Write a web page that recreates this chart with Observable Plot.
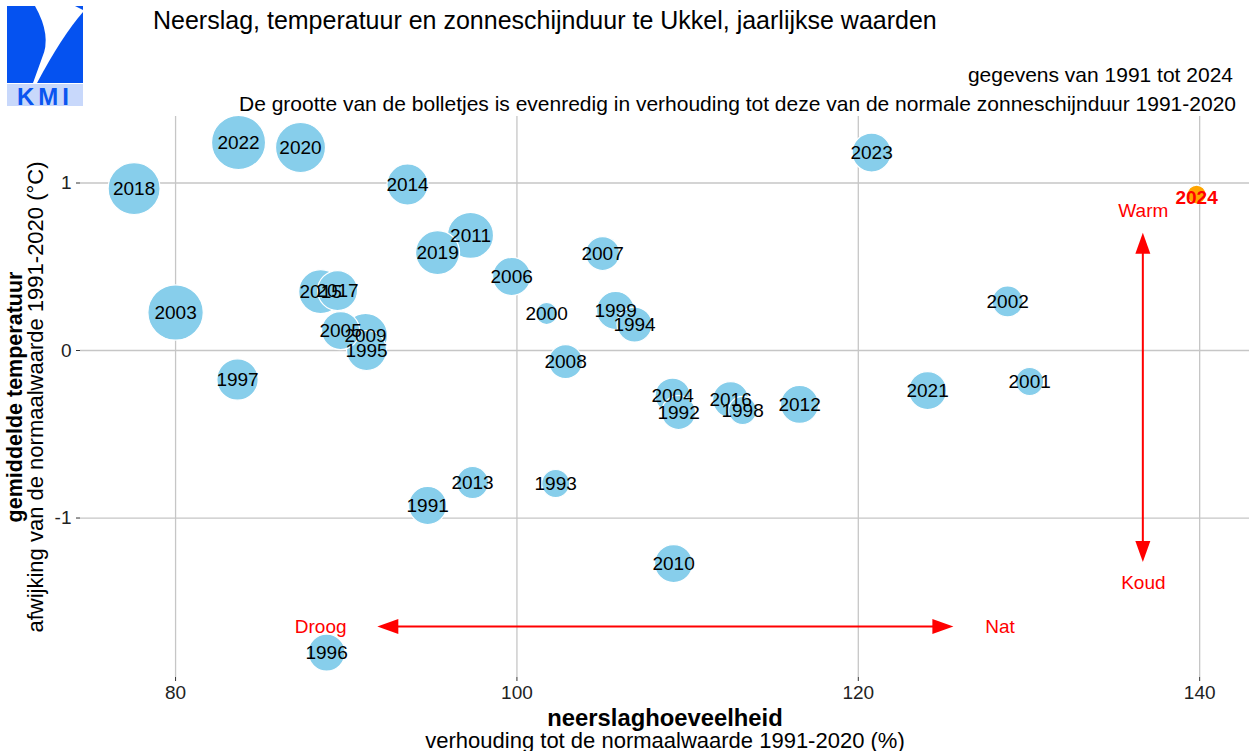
<!DOCTYPE html>
<html><head><meta charset="utf-8">
<script src="https://cdn.jsdelivr.net/npm/d3@7"></script>
<script src="https://cdn.jsdelivr.net/npm/@observablehq/plot@0.6"></script>
<style>
body{margin:0;background:#fff;font-family:"Liberation Sans",Arial,Helvetica,sans-serif;}
#wrap{position:relative;width:1249px;height:751px;overflow:hidden;background:#fff;}
.t{position:absolute;white-space:nowrap;color:#000;line-height:1.15;z-index:2;}
#title{left:153px;top:6px;font-size:25px;}
#sub1{right:16px;top:63px;font-size:21px;}
#sub2{right:13px;top:92px;font-size:21px;}
#logo{position:absolute;left:0;top:0;z-index:2;}
#chart{position:absolute;left:0;top:112px;z-index:1;}
</style></head>
<body>
<div id="wrap">
  <svg id="logo" width="90" height="110" viewBox="0 0 90 110">
    <path d="M7,6 L35,6 Q52,36 42,58 L33,83 L7,83 Z" fill="#0552f0"/>
    <path d="M37,83 L83,83 L83,12 Q62,36 37,83 Z" fill="#0552f0"/>
    <path d="M75,6 L83,6 L83,10 Z" fill="#0552f0"/>
    <rect x="7" y="84" width="76" height="22" fill="#c8d8fb"/>
    <text x="45" y="105" text-anchor="middle" font-family="Liberation Sans, Arial, sans-serif" font-weight="bold" font-size="24" letter-spacing="4" fill="#0a55f0">KMI</text>
  </svg>
  <div id="title" class="t">Neerslag, temperatuur en zonneschijnduur te Ukkel, jaarlijkse waarden</div>
  <div id="sub1" class="t">gegevens van 1991 tot 2024</div>
  <div id="sub2" class="t">De grootte van de bolletjes is evenredig in verhouding tot deze van de normale zonneschijnduur 1991-2020</div>
  <div id="chart"></div>
</div>
<script>
// ---- Data ----
const jaren = [1991,1992,1993,1994,1995,1996,1997,1998,1999,2000,2001,2002,2003,2004,2005,2006,2007,2008,2009,2010,2011,2012,2013,2014,2015,2016,2017,2018,2019,2020,2021,2022,2023,2024];
// neerslag: % of normal 1991-2020
const neerslag = [94.77,109.47,102.27,106.89,91.19,88.85,83.63,113.22,105.78,101.74,130.04,128.75,80.00,109.12,89.67,99.69,105.02,102.85,91.13,109.18,97.28,116.56,97.40,93.59,88.50,112.52,89.49,77.57,95.35,87.32,124.06,83.69,120.78,139.82];
// temperatuur: anomaly vs 1991-2020 (°C)
const temperatuur = [-0.925,-0.370,-0.794,0.155,0.000,-1.803,-0.173,-0.358,0.239,0.221,-0.185,0.293,0.227,-0.269,0.119,0.442,0.579,-0.066,0.090,-1.272,0.687,-0.322,-0.788,0.991,0.352,-0.293,0.358,0.967,0.585,1.212,-0.239,1.242,1.182,0.931];
// zonneschijnduur: % of normal 1991-2020
const zon = [108.3,104.4,98.7,105.4,110.2,107.3,111.5,98.7,108.3,92.9,98.7,101.5,125.0,105.4,108.3,108.3,104.4,104.4,114.0,108.3,116.0,108.3,102.5,111.2,114.0,106.3,110.2,121.7,114.0,119.8,108.3,123.7,109.2,90.0];
const laatsteJaar = 2024;

const xTicks = [80,100,120,140];
const yTicks = [-1,0,1];

// annotations
const pijlH = {x1: 125.6, x2: 91.85, y: -1.65};
const pijlV = {x: 136.7, y1: -1.265, y2: 0.70};
const annotaties = [
  {x: 88.5, y: -1.65, t: "Droog"},
  {x: 128.3, y: -1.65, t: "Nat"},
  {x: 136.7, y: 0.836, t: "Warm"},
  {x: 136.7, y: -1.385, t: "Koud"}
];

const data = jaren.map((j,i) => ({jaar: j, neerslag: neerslag[i], temp: temperatuur[i], zon: zon[i]}));
const oud = data.filter(d => d.jaar !== laatsteJaar);
const nieuw = data.filter(d => d.jaar === laatsteJaar);

const FONT = "Liberation Sans, Arial, Helvetica, sans-serif";
const RED = "#ff0000";

function arrowsMark(index, scales, values, dimensions) {
  const sx = scales.x, sy = scales.y;
  const g = d3.create("svg:g");
  const L = 21, W = 7.5;
  function head(tx, ty, dx, dy) {
    const bx = tx - dx*L, by = ty - dy*L;
    const px = -dy*W, py = dx*W;
    g.append("path").attr("d", `M${tx},${ty}L${bx+px},${by+py}L${bx-px},${by-py}Z`).attr("fill", RED);
  }
  const hx1 = sx(pijlH.x1), hx2 = sx(pijlH.x2), hy = sy(pijlH.y);
  g.append("line").attr("x1", hx1 - L*0.8).attr("x2", hx2 + L*0.8).attr("y1", hy).attr("y2", hy)
    .attr("stroke", RED).attr("stroke-width", 2);
  head(hx1, hy, 1, 0); head(hx2, hy, -1, 0);
  const vx = sx(pijlV.x), vy1 = sy(pijlV.y1), vy2 = sy(pijlV.y2);
  g.append("line").attr("x1", vx).attr("x2", vx).attr("y1", vy1 - L*0.8).attr("y2", vy2 + L*0.8)
    .attr("stroke", RED).attr("stroke-width", 2);
  head(vx, vy1, 0, 1); head(vx, vy2, 0, -1);
  return g.node();
}

const chart = Plot.plot({
  width: 1249,
  height: 639,
  marginTop: 4,
  marginLeft: 80,
  marginRight: 0,
  marginBottom: 74,
  style: {background: "none", overflow: "visible", fontFamily: FONT},
  x: {domain: [74.43, 142.92], label: null},
  y: {domain: [-1.952, 1.397], label: null},
  r: {type: "linear", domain: [90, 125], range: [9.5, 27.7]},
  marks: [
    Plot.gridX(xTicks, {stroke: "#c6c6c6", strokeOpacity: 1, strokeWidth: 1.3}),
    Plot.gridY(yTicks, {stroke: "#c6c6c6", strokeOpacity: 1, strokeWidth: 1.3}),
    Plot.axisX(xTicks, {tickSize: 4, tickPadding: 4, fontSize: 19, stroke: "#333", fill: "#222", label: null}),
    Plot.axisY(yTicks, {tickSize: 4, tickPadding: 5, fontSize: 19, stroke: "#333", fill: "#222", label: null, tickFormat: d => d === 0 ? "0" : (d < 0 ? "-1" : "1")}),
    Plot.dot(oud, {x: "neerslag", y: "temp", r: "zon", fill: "#87ceeb", fillOpacity: 1, stroke: "white", strokeWidth: 1.2}),
    Plot.dot(nieuw, {x: "neerslag", y: "temp", r: "zon", fill: "#ffa500", fillOpacity: 1, stroke: "white", strokeWidth: 1.2}),
    Plot.text(oud, {x: "neerslag", y: "temp", text: d => String(d.jaar), fontSize: 19, fill: "#000"}),
    Plot.text(nieuw, {x: "neerslag", y: "temp", text: d => String(d.jaar), fontSize: 19, fontWeight: "bold", fill: RED, dy: 3}),
    arrowsMark,
    Plot.text(annotaties, {x: "x", y: "y", text: "t", fontSize: 19, fill: RED}),
    // axis titles
    Plot.text(["neerslaghoeveelheid"], {frameAnchor: "bottom", dy: 48, fontSize: 23.8, fontWeight: "bold", fill: "#000"}),
    Plot.text(["verhouding tot de normaalwaarde 1991-2020 (%)"], {frameAnchor: "bottom", dy: 70, fontSize: 22, fill: "#000"}),
    Plot.text(["gemiddelde temperatuur"], {frameAnchor: "left", textAnchor: "middle", dx: -65, rotate: -90, fontSize: 21.5, fontWeight: "bold", fill: "#000"}),
    Plot.text(["afwijking van de normaalwaarde 1991-2020 (°C)"], {frameAnchor: "left", textAnchor: "middle", dx: -45, rotate: -90, fontSize: 22, fill: "#000"})
  ]
});
document.getElementById("chart").appendChild(chart);
</script>
</body></html>
